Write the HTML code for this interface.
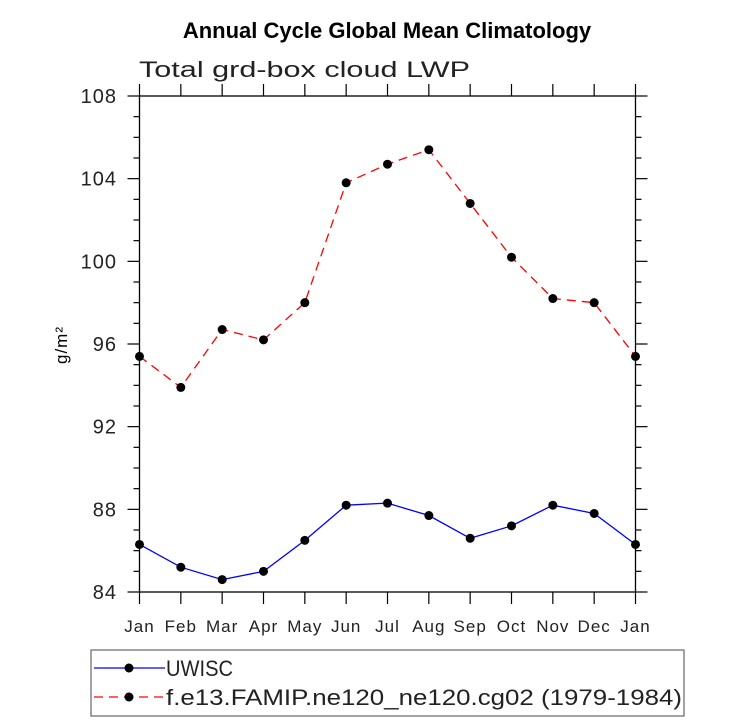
<!DOCTYPE html>
<html><head><meta charset="utf-8"><style>
body{margin:0;background:#fff;}
svg text{font-family:"Liberation Sans",sans-serif;}
</style></head><body>
<svg id="chart" width="733" height="722" xmlns="http://www.w3.org/2000/svg">
<text x="387" y="38" text-anchor="middle" font-size="22" font-weight="bold">Annual Cycle Global Mean Climatology</text>
<text x="139" y="77" font-size="22" fill="#222" textLength="331" lengthAdjust="spacingAndGlyphs">Total grd-box cloud LWP</text>
<text transform="translate(67,345) rotate(-90)" text-anchor="middle" font-size="17" letter-spacing="1">g/m²</text>
<g id="axes"></g>
<g id="series"></g>
<rect x="91" y="650" width="593" height="66" fill="none" stroke="#666" stroke-width="1.2"/>
<g>
<line x1="94" y1="668" x2="165" y2="668" stroke="#0000ff" stroke-width="1.3"/>
<circle cx="129" cy="668" r="4.5" fill="#000"/>
<text x="166" y="676" font-size="22" fill="#222" textLength="67" lengthAdjust="spacingAndGlyphs">UWISC</text>
</g>
<g>
<line x1="94" y1="697" x2="165" y2="697" stroke="#ff0000" stroke-width="1.3" stroke-dasharray="9,6"/>
<circle cx="129" cy="697" r="4.5" fill="#000"/>
<text x="166" y="705" font-size="22" fill="#222" textLength="516" lengthAdjust="spacingAndGlyphs">f.e13.FAMIP.ne120_ne120.cg02 (1979-1984)</text>
</g>
</svg>
<script>
const months = ["Jan","Feb","Mar","Apr","May","Jun","Jul","Aug","Sep","Oct","Nov","Dec","Jan"];
const uwisc = [86.3,85.2,84.6,85.0,86.5,88.2,88.3,87.7,86.6,87.2,88.2,87.8,86.3];
const famip = [95.4,93.9,96.7,96.2,98.0,103.8,104.7,105.4,102.8,100.2,98.2,98.0,95.4];
const yTicks = [84,88,92,96,100,104,108];
const L=139.5,R=635.5,T=96,B=592,yMin=84,yMax=108;
const ns="http://www.w3.org/2000/svg";
const xs=i=>L+(R-L)*i/(months.length-1);
const ys=v=>B-(B-T)*(v-yMin)/(yMax-yMin);
function mk(tag,attrs,parent){const e=document.createElementNS(ns,tag);for(const k in attrs)e.setAttribute(k,attrs[k]);parent.appendChild(e);return e;}
const ax=document.getElementById('axes');
const frame=mk('rect',{x:L,y:T,width:R-L,height:B-T,fill:'none',stroke:'#000','stroke-width':1.3},ax);


months.forEach((m,i)=>{
  const x=xs(i);
  mk('line',{x1:x,y1:B,x2:x,y2:B+12,stroke:'#000','stroke-width':1.2},ax);
  mk('line',{x1:x,y1:T,x2:x,y2:T-12,stroke:'#000','stroke-width':1.2},ax);
  const t=mk('text',{x:x,y:632,'text-anchor':'middle','font-size':17,fill:'#222','letter-spacing':1},ax);
  t.textContent=m;
  
  
});
for(let v=yMin;v<=yMax;v+=1){
  const y=ys(v);const major=(v-yMin)%4===0;const len=major?12:6;
  mk('line',{x1:L,y1:y,x2:L-len,y2:y,stroke:'#000','stroke-width':1.2},ax);
  mk('line',{x1:R,y1:y,x2:R+len,y2:y,stroke:'#000','stroke-width':1.2},ax);
}
yTicks.forEach(v=>{
  const t=mk('text',{x:117,y:ys(v)+7,'text-anchor':'end','font-size':20,fill:'#222','letter-spacing':1},ax);
  t.textContent=v;
  
  
});
const sg=document.getElementById('series');
function drawSeries(vals,color,dash,name){
  const g=mk('g',{},sg);
  
  
  const p=mk('polyline',{points:vals.map((v,i)=>xs(i)+','+ys(v)).join(' '),fill:'none',stroke:color,'stroke-width':1.3},g);
  if(dash)p.setAttribute('stroke-dasharray',dash);
  vals.forEach((v,i)=>{
    const c=mk('circle',{cx:xs(i),cy:ys(v),r:4.5,fill:'#000'},g);
    
    
  });
}
drawSeries(famip,'#ff0000','9,6','famip-series');
drawSeries(uwisc,'#0000ff',null,'uwisc-series');
</script>
</body></html>
